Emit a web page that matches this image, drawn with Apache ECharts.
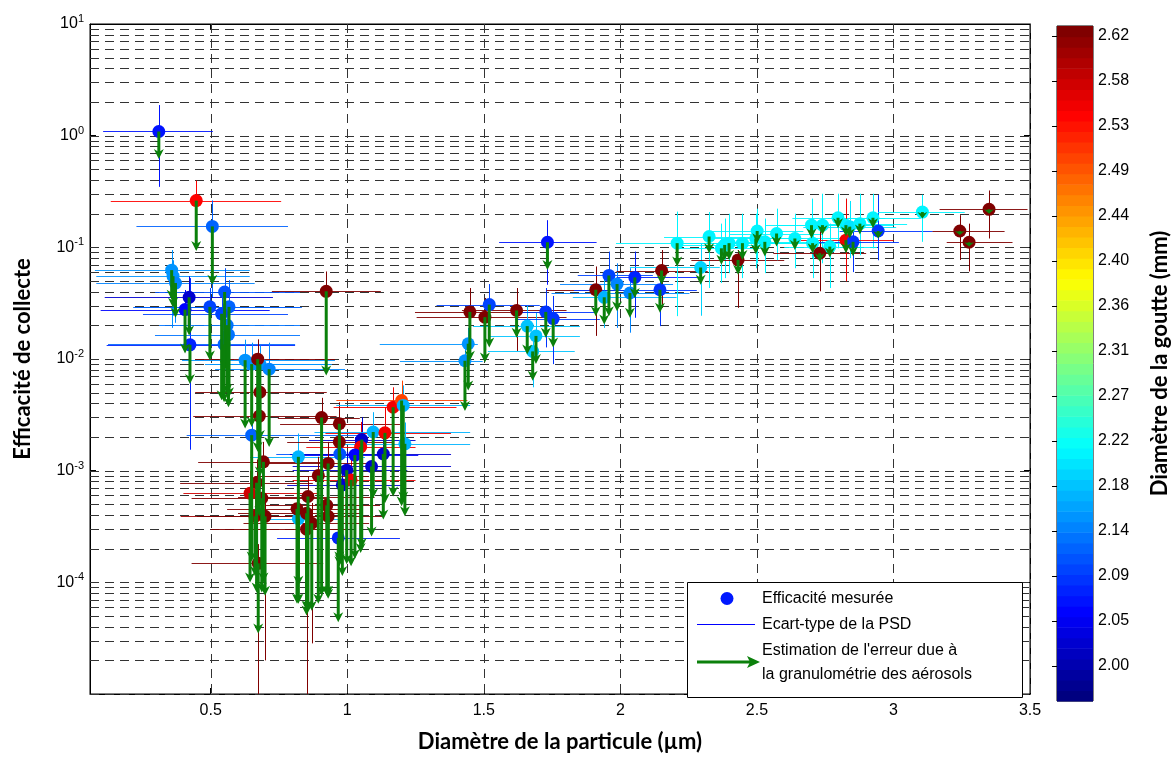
<!DOCTYPE html>
<html>
<head>
<meta charset="utf-8">
<script src="https://cdn.jsdelivr.net/npm/echarts@6/dist/echarts.min.js"></script>
<style>
html, body { margin: 0; padding: 0; background: #fff; }
#main { width: 1172px; height: 758px; }
</style>
</head>
<body>
<div id="main"></div>
<script>
// diamètre des particules (µm)
var dp = [0.310, 0.447, 0.506, 0.357, 0.362, 0.371, 0.421, 0.406, 0.424, 0.497, 0.551, 0.567, 0.540, 0.560, 0.565, 0.549, 0.923,
    0.626, 0.650, 0.680, 0.714, 0.672, 0.680, 0.678, 0.650, 0.693, 0.668, 0.644, 0.687, 0.662, 0.699, 0.674,
    0.821, 0.821, 0.906, 0.971, 0.971, 0.973, 1.053, 1.049, 1.028, 1.132, 1.089, 0.998, 0.982, 1.014, 1.095, 1.138, 1.168, 1.199, 1.205, 1.211,
    0.930, 0.894, 0.856, 0.816, 0.925, 0.851, 0.870, 0.851, 0.930, 0.967,
    1.443, 1.431, 1.449, 1.520, 1.504, 1.620, 1.659, 1.691, 1.679, 1.727, 1.754, 1.733, 1.910, 1.941, 1.958, 1.988, 2.035, 2.053, 2.145, 2.151,
    2.208, 2.294, 2.325, 2.370, 2.382, 2.398, 2.431, 2.447, 2.501, 2.496, 2.529, 2.572, 2.639, 2.700, 2.740, 2.704, 2.767, 2.730,
    2.797, 2.826, 2.840, 2.877, 2.925, 2.826, 2.852, 2.944, 3.106, 3.243, 3.277, 3.350];
// efficacité mesurée
var eff = [1.09, 0.262, 0.154, 0.0625, 0.0552, 0.0479, 0.0357, 0.0277, 0.0134, 0.0293, 0.0398, 0.0293, 0.0254, 0.0201, 0.0165, 0.0135, 0.0404,
    0.00976, 0.0090, 0.0090, 0.00811, 0.00996, 0.00504, 0.00308, 0.00208, 0.0012, 0.00078, 0.000628, 0.000567, 0.00039, 0.00039, 0.000148,
    0.00133, 0.000371, 0.00299, 0.00263, 0.00181, 0.00141, 0.0019, 0.00163, 0.00138, 0.00141, 0.00109, 0.00101, 0.000746, 0.000826, 0.00222, 0.00218, 0.0037, 0.00425, 0.00384, 0.00174,
    0.00116, 0.000904, 0.000587, 0.000455, 0.000489, 0.000415, 0.000338, 0.000299, 0.00039, 0.00025,
    0.0137, 0.00964, 0.0264, 0.0307, 0.0237, 0.0272, 0.0197, 0.0161, 0.0117, 0.0264, 0.023, 0.111, 0.0417, 0.0357, 0.056, 0.0469, 0.039, 0.0538, 0.0417, 0.062,
    0.109, 0.066, 0.125, 0.098, 0.105, 0.109, 0.0771, 0.109, 0.14, 0.12, 0.112, 0.133, 0.12, 0.158, 0.158, 0.109, 0.1015, 0.0885,
    0.184, 0.158, 0.153, 0.163, 0.184, 0.116, 0.112, 0.14, 0.207, 0.14, 0.111, 0.219];
// diamètre de la goutte (mm)
var drop = [2.06, 2.545, 2.12, 2.15, 2.15, 2.14, 2.02, 2.05, 2.07, 2.10, 2.11, 2.12, 2.10, 2.13, 2.13, 2.12, 2.63,
    2.15, 2.15, 2.15, 2.14, 2.63, 2.63, 2.63, 2.12, 2.63, 2.63, 2.57, 2.63, 2.60, 2.63, 2.63,
    2.17, 2.17, 2.63, 2.63, 2.63, 2.11, 2.02, 2.55, 2.05, 2.02, 2.02, 2.02, 2.02, 2.55, 2.17, 2.55, 2.55, 2.50, 2.17, 2.17,
    2.63, 2.63, 2.63, 2.63, 2.63, 2.63, 2.63, 2.63, 2.63, 2.07,
    2.15, 2.15, 2.63, 2.10, 2.63, 2.63, 2.18, 2.18, 2.18, 2.09, 2.09, 2.06, 2.63, 2.17, 2.10, 2.14, 2.14, 2.07, 2.09, 2.63,
    2.21, 2.19, 2.21, 2.21, 2.21, 2.21, 2.63, 2.21, 2.21, 2.21, 2.21, 2.21, 2.21, 2.21, 2.21, 2.21, 2.21, 2.63,
    2.21, 2.21, 2.20, 2.21, 2.21, 2.55, 2.09, 2.09, 2.21, 2.63, 2.63, 2.63];
// écart-type de la PSD (bornes en µm)
var dpLo = [0.106, 0.134, 0.228, 0.076, 0.081, 0.081, 0.112, 0.097, 0.119, 0.222, 0.296, 0.216, 0.252, 0.311, 0.296, 0.124, 0.724,
    0.395, 0.479, 0.497, 0.516, 0.443, 0.443, 0.436, 0.412, 0.454, 0.388, 0.40, 0.43, 0.39, 0.45, 0.43,
    0.644, 0.644, 0.746, 0.754, 0.78, 0.74, 0.86, 0.85, 0.80, 0.79, 0.80, 0.80, 0.78, 0.80, 0.88, 0.92, 0.95, 0.96, 0.96, 0.98,
    0.70, 0.66, 0.60, 0.56, 0.70, 0.60, 0.62, 0.50, 0.72, 0.743,
    1.119, 1.193, 1.248, 1.327, 1.254, 1.42, 1.460, 1.522, 1.515, 1.596, 1.614, 1.556, 1.730, 1.826, 1.844, 1.779, 1.748, 1.986, 1.83, 1.986,
    1.984, 2.035, 2.16, 2.20, 2.21, 2.23, 2.26, 2.28, 2.33, 2.33, 2.36, 2.40, 2.47, 2.53, 2.57, 2.53, 2.60, 2.56,
    2.63, 2.66, 2.67, 2.71, 2.76, 2.66, 2.68, 2.803, 2.943, 3.143, 3.195, 3.169];
var dpHi = [0.508, 0.758, 0.783, 0.643, 0.643, 0.661, 0.728, 0.716, 0.809, 0.826, 0.827, 0.834, 0.783, 0.827, 0.827, 0.809, 1.123,
    0.955, 0.937, 0.944, 0.992, 0.955, 0.925, 0.961, 1.046, 0.925, 0.874, 0.89, 0.93, 0.92, 0.96, 0.912,
    1.065, 0.979, 1.046, 1.193, 1.17, 1.20, 1.25, 1.25, 1.26, 1.38, 1.38, 1.22, 1.20, 1.25, 1.45, 1.38, 1.40, 1.44, 1.45, 1.45,
    1.10, 1.08, 1.10, 1.05, 1.12, 1.05, 1.08, 1.00, 1.13, 1.193,
    1.478, 1.496, 1.803, 1.705, 1.803, 1.803, 1.852, 1.852, 1.833, 1.913, 1.925, 1.913, 2.046, 2.206, 2.119, 2.193, 2.253, 2.291, 2.28, 2.32,
    2.498, 2.364, 2.50, 2.54, 2.55, 2.57, 2.60, 2.62, 2.67, 2.67, 2.70, 2.74, 2.81, 2.87, 2.91, 2.87, 2.94, 2.90,
    2.97, 3.00, 3.01, 3.05, 3.10, 3.00, 3.02, 3.144, 3.261, 3.407, 3.436, 3.491];
// barres verticales (bornes de l'efficacité)
var effLo = [0.348, 0.148, 0.0352, 0.019, 0.0244, 0.0211, 0.0224, 0.0155, 0.00154, 0.0172, 0.0211, 0.014, 0.0155, 0.0121, 0.0099, 0.00686, 0.0234,
    0.00558, 0.00504, 0.00536, 0.00455, 0.00455, 0.00302, 0.00181, 0.00148, 0.000721, 0.000514, 0.000324, 0.000352, 0.000172, 0.00002, 0.000005,
    0.000798, 0.000211, 0.002, 0.0017, 0.0012, 0.000885, 0.00133, 0.00109, 0.000885, 0.00092, 0.000692, 0.00065, 0.000514, 0.00053, 0.00148, 0.00133, 0.00246, 0.00273, 0.0025, 0.0011,
    0.000721, 0.000587, 0.00039, 0.000287, 0.000324, 0.000257, 0.0000284, 0.000005, 0.000234, 0.000172,
    0.0093, 0.00686, 0.0155, 0.019, 0.014, 0.0118, 0.0127, 0.0099, 0.00558, 0.0127, 0.009, 0.0462, 0.0161, 0.019, 0.0352, 0.019, 0.0172, 0.0234, 0.0197, 0.0287,
    0.0242, 0.0244, 0.0432, 0.0479, 0.053, 0.0587, 0.0287, 0.053, 0.0719, 0.065, 0.0587, 0.0766, 0.065, 0.0798, 0.0719, 0.053, 0.0432, 0.0404,
    0.098, 0.085, 0.08, 0.085, 0.098, 0.0496, 0.06, 0.0766, 0.112, 0.0771, 0.0608, 0.12];
var effHi = [1.88, 0.396, 0.263, 0.0946, 0.0766, 0.0678, 0.055, 0.0415, 0.053, 0.0432, 0.065, 0.0509, 0.0382, 0.0299, 0.0244, 0.0211, 0.0608,
    0.0149, 0.014, 0.0132, 0.014, 0.015, 0.00759, 0.00455, 0.00302, 0.00181, 0.00125, 0.001, 0.000885, 0.00065, 0.000587, 0.00022,
    0.00215, 0.000567, 0.00449, 0.0041, 0.00273, 0.00209, 0.00302, 0.00273, 0.002, 0.002, 0.00163, 0.00148, 0.00109, 0.00128, 0.00334, 0.0037, 0.00558, 0.0064, 0.0058, 0.0027,
    0.00181, 0.00133, 0.000885, 0.00065, 0.000721, 0.000587, 0.000514, 0.000432, 0.000587, 0.00039,
    0.019, 0.0132, 0.0432, 0.0469, 0.0352, 0.0432, 0.0299, 0.0259, 0.0172, 0.0432, 0.0367, 0.175, 0.0674, 0.053, 0.0916, 0.0719, 0.065, 0.0916, 0.0678, 0.0946,
    0.209, 0.109, 0.207, 0.163, 0.181, 0.20, 0.0946, 0.20, 0.222, 0.20, 0.181, 0.222, 0.20, 0.273, 0.302, 0.181, 0.163, 0.148,
    0.302, 0.273, 0.26, 0.302, 0.302, 0.273, 0.163, 0.296, 0.296, 0.194, 0.163, 0.323];
// estimation de l'erreur due à la granulométrie (pointe de la flèche)
var effEst = [0.618, 0.0927, 0.0462, 0.034, 0.0287, 0.0234, 0.0162, 0.0112, 0.00597, 0.0097, 0.0079, 0.00455, 0.00428, 0.00486, 0.0037, 0.0041, 0.00713,
    0.00238, 0.00246, 0.00188, 0.00163, 0.00148, 0.000885, 0.00039, 0.000154, 0.0000995, 0.0000811, 0.0000995, 0.0000811, 0.000114, 0.0000759, 0.0000348,
    0.0000931, 0.0000644, 0.0000759, 0.000154, 0.000139, 0.000145, 0.000203, 0.000183, 0.000162, 0.000365, 0.000257, 0.000145, 0.000114, 0.000139, 0.000567, 0.000512, 0.000587, 0.000479, 0.00053, 0.00039,
    0.0000759, 0.0000644, 0.0000558, 0.0000644, 0.0000759, 0.0000558, 0.0000558, 0.0000504, 0.0000713, 0.000044,
    0.00521, 0.00343, 0.00964, 0.0127, 0.0093, 0.0155, 0.011, 0.009, 0.0064, 0.0155, 0.0127, 0.0628, 0.0242, 0.0204, 0.0242, 0.0268, 0.0234, 0.0352, 0.0259, 0.0462,
    0.0674, 0.0462, 0.0885, 0.0697, 0.0766, 0.0771, 0.0567, 0.0771, 0.109, 0.0867, 0.0826, 0.1015, 0.0946, 0.12, 0.129, 0.0885, 0.081, 0.0746,
    0.148, 0.125, 0.12, 0.13, 0.148, 0.0885, 0.0833, 0.12, 0.181, 0.129, 0.1015, 0.2];

var xTicks = [0.5, 1, 1.5, 2, 2.5, 3, 3.5];
var xTickLabels = ['0.5', '1', '1.5', '2', '2.5', '3', '3.5'];
var cbTicks = [2.000, 2.0443, 2.0886, 2.1329, 2.1771, 2.2214, 2.2657, 2.3100, 2.3543, 2.3986, 2.4429, 2.4871, 2.5314, 2.5757, 2.6200];
var cbTickLabels = ['2.00', '2.05', '2.09', '2.14', '2.18', '2.22', '2.27', '2.31', '2.36', '2.40', '2.44', '2.49', '2.53', '2.58', '2.62'];
var cbMin = 1.9656, cbMax = 2.6298;

var xMin = 0.058, xMax = 3.5, yMin = 1e-5, yMax = 10;
var green = '#0b800b';
var tickFont = 'Liberation Sans, Arial, sans-serif';
var titleFont = 'Lato, sans-serif';

function clamp(v) { return Math.max(0, Math.min(1, v)); }
function jetIndex(i) {
    var t = i / 63;
    var r = clamp(1.5 - Math.abs(4 * t - 3));
    var g = clamp(1.5 - Math.abs(4 * t - 2));
    var b = clamp(1.5 - Math.abs(4 * t - 1));
    return 'rgb(' + Math.round(r * 255) + ',' + Math.round(g * 255) + ',' + Math.round(b * 255) + ')';
}
function jet(c) {
    var i = Math.floor((c - cbMin) / (cbMax - cbMin) * 64);
    return jetIndex(Math.max(0, Math.min(63, i)));
}

// lignes de grille (pointillés façon MATLAB)
var yGrid = [];
for (var k = -5; k <= 0; k++) {
    for (var m = 1; m <= 9; m++) yGrid.push(m * Math.pow(10, k));
}
var points = dp.map(function (x, i) { return [x, eff[i]]; });
var bands = [];
for (var b = 0; b < 64; b++) bands.push([0.5, cbMin + (b + 0.5) * (cbMax - cbMin) / 64]);

var myChart = echarts.init(document.getElementById('main'), null, {renderer: 'canvas'});

var dash = [9, 6];
var legendFont = '16px ' + tickFont;
var option = {
    animation: false,
    backgroundColor: '#fff',
    grid: [
        {left: 90, top: 24, width: 940, height: 675, show: true, borderColor: '#000', borderWidth: 1},
        {left: 1057, top: 26, width: 40, height: 675, show: true, borderColor: '#000', borderWidth: 1}
    ],
    xAxis: [{
        type: 'value', gridIndex: 0, min: xMin, max: xMax,
        name: 'Diamètre de la particule (µm)', nameLocation: 'middle', nameGap: 37,
        nameTextStyle: {fontFamily: titleFont, fontWeight: 'bold', fontSize: 22, color: '#000'},
        axisLine: {lineStyle: {color: '#000'}},
        axisTick: {inside: true, length: 6, customValues: xTicks, lineStyle: {color: '#000'}},
        axisLabel: {customValues: xTicks, margin: 9, fontSize: 16, fontFamily: tickFont, color: '#000',
            formatter: function (v) { return xTickLabels[xTicks.indexOf(v)]; }},
        splitLine: {show: false}
    }, {
        type: 'value', gridIndex: 0, position: 'top', min: xMin, max: xMax,
        axisLine: {lineStyle: {color: '#000'}},
        axisTick: {inside: true, length: 6, customValues: xTicks, lineStyle: {color: '#000'}},
        axisLabel: {show: false}, splitLine: {show: false}
    }, {
        type: 'value', gridIndex: 1, min: 0, max: 1, show: false
    }],
    yAxis: [{
        type: 'log', logBase: 10, gridIndex: 0, min: yMin, max: yMax,
        name: 'Efficacité de collecte', nameLocation: 'middle', nameGap: 56,
        nameTextStyle: {fontFamily: titleFont, fontWeight: 'bold', fontSize: 22, color: '#000'},
        axisLine: {lineStyle: {color: '#000'}},
        axisTick: {inside: true, length: 6, lineStyle: {color: '#000'}},
        axisLabel: {
            showMinLabel: false, margin: 6,
            formatter: function (v) { return '{b|10}{s|' + Math.round(Math.log10(v)) + '}'; },
            rich: {
                b: {fontSize: 16, fontFamily: tickFont, color: '#000'},
                s: {fontSize: 11, fontFamily: tickFont, color: '#000', padding: [0, 0, 10, 0]}
            }
        },
        splitLine: {show: false}
    }, {
        type: 'log', logBase: 10, gridIndex: 0, position: 'right', min: yMin, max: yMax,
        axisLine: {lineStyle: {color: '#000'}},
        axisTick: {inside: true, length: 6, lineStyle: {color: '#000'}},
        axisLabel: {show: false}, splitLine: {show: false}
    }, {
        type: 'value', gridIndex: 1, position: 'right', min: cbMin, max: cbMax,
        name: 'Diamètre de la goutte (mm)', nameLocation: 'middle', nameGap: 56, nameRotate: 90,
        nameTextStyle: {fontFamily: titleFont, fontWeight: 'bold', fontSize: 22, color: '#000'},
        axisLine: {show: false},
        axisTick: {inside: true, length: 5, customValues: cbTicks, lineStyle: {color: '#000'}},
        axisLabel: {customValues: cbTicks, margin: 5, fontSize: 16, fontFamily: tickFont, color: '#000',
            formatter: function (v) { return cbTickLabels[cbTicks.indexOf(v)]; }},
        splitLine: {show: false}
    }, {
        type: 'value', gridIndex: 1, position: 'left', min: cbMin, max: cbMax,
        axisLine: {show: false},
        axisTick: {inside: true, length: 5, customValues: cbTicks, lineStyle: {color: '#000'}},
        axisLabel: {show: false}, splitLine: {show: false}
    }],
    series: [{
        // grille horizontale
        type: 'custom', xAxisIndex: 0, yAxisIndex: 0, silent: true, z: 1,
        data: yGrid.map(function (v) { return [xMin, v]; }),
        renderItem: function (params, api) {
            var p0 = api.coord([xMin, api.value(1)]);
            var p1 = api.coord([xMax, api.value(1)]);
            var y = Math.round(p0[1]) + 0.5;
            return {type: 'line', shape: {x1: p0[0], y1: y, x2: p1[0], y2: y},
                style: {stroke: '#333', lineWidth: 1, lineDash: dash}};
        }
    }, {
        // grille verticale
        type: 'custom', xAxisIndex: 0, yAxisIndex: 0, silent: true, z: 1,
        data: xTicks.map(function (v) { return [v, yMax]; }),
        renderItem: function (params, api) {
            var p0 = api.coord([api.value(0), yMax]);
            var p1 = api.coord([api.value(0), yMin]);
            var x = Math.round(p0[0]) + 0.5;
            return {type: 'line', shape: {x1: x, y1: p0[1], x2: x, y2: p1[1]},
                style: {stroke: '#333', lineWidth: 1, lineDash: dash}};
        }
    }, {
        // écart-type de la PSD + barres verticales
        type: 'custom', xAxisIndex: 0, yAxisIndex: 0, silent: true, clip: true, z: 2,
        data: points,
        renderItem: function (params, api) {
            var i = params.dataIndex;
            var col = jet(drop[i]);
            var pl = api.coord([dpLo[i], eff[i]]);
            var pr = api.coord([dpHi[i], eff[i]]);
            var pt = api.coord([dp[i], effHi[i]]);
            var pb = api.coord([dp[i], effLo[i]]);
            var yh = Math.round(pl[1]) + 0.5, xv = Math.round(pt[0]) + 0.5;
            return {type: 'group', children: [
                {type: 'line', shape: {x1: pl[0], y1: yh, x2: pr[0], y2: yh}, style: {stroke: col, lineWidth: 1, opacity: 0.9}},
                {type: 'line', shape: {x1: xv, y1: pt[1], x2: xv, y2: pb[1]}, style: {stroke: col, lineWidth: 1}}
            ]};
        }
    }, {
        name: 'Efficacité mesurée',
        type: 'scatter', xAxisIndex: 0, yAxisIndex: 0, z: 3,
        symbolSize: 13,
        data: points,
        itemStyle: {opacity: 1, color: function (p) { return jet(drop[p.dataIndex]); }}
    }, {
        // flèches : erreur due à la granulométrie
        type: 'custom', xAxisIndex: 0, yAxisIndex: 0, silent: true, clip: true, z: 4,
        data: points,
        renderItem: function (params, api) {
            var i = params.dataIndex;
            var p0 = api.coord([dp[i], eff[i]]);
            var p1 = api.coord([dp[i], effEst[i]]);
            var x = p0[0], tip = p1[1];
            var len = tip - p0[1];
            var hl = Math.min(10, len), hw = 5;
            return {type: 'group', children: [
                {type: 'line', shape: {x1: x, y1: p0[1], x2: x, y2: tip - hl * 0.6},
                    style: {stroke: green, lineWidth: 3}},
                {type: 'polygon', shape: {points: [[x - hw, tip - hl], [x, tip - hl * 0.7], [x + hw, tip - hl], [x, tip]]},
                    style: {fill: green}}
            ]};
        }
    }, {
        // barre de couleur (jet 64)
        type: 'custom', xAxisIndex: 2, yAxisIndex: 2, silent: true, z: 1,
        data: bands,
        renderItem: function (params, api) {
            var i = params.dataIndex;
            var h = (cbMax - cbMin) / 64;
            var lo = cbMin + i * h;
            var p0 = api.coord([0, lo]);
            var p1 = api.coord([1, lo + h]);
            return {type: 'rect', shape: {x: p0[0], y: p1[1], width: p1[0] - p0[0], height: p0[1] - p1[1] + 0.6},
                style: {fill: jetIndex(i)}};
        }
    }],
    graphic: [{
        type: 'group', left: 687, top: 582, zlevel: 1, z: 100,
        children: [
            {type: 'rect', z: 100, zlevel: 1, shape: {x: 0.5, y: 0.5, width: 335, height: 115}, style: {fill: '#fff', stroke: '#000', lineWidth: 1}},
            {type: 'circle', z: 101, zlevel: 1, shape: {cx: 40, cy: 16.5, r: 6.5}, style: {fill: '#0018ff'}},
            {type: 'text', z: 101, zlevel: 1, x: 75, y: 16.5, style: {text: 'Efficacité mesurée', font: legendFont, fill: '#000', verticalAlign: 'middle'}},
            {type: 'line', z: 101, zlevel: 1, shape: {x1: 10, y1: 42.5, x2: 68, y2: 42.5}, style: {stroke: '#0000ff', lineWidth: 1}},
            {type: 'text', z: 101, zlevel: 1, x: 75, y: 42.5, style: {text: 'Ecart-type de la PSD', font: legendFont, fill: '#000', verticalAlign: 'middle'}},
            {type: 'line', z: 101, zlevel: 1, shape: {x1: 10, y1: 80, x2: 66, y2: 80}, style: {stroke: green, lineWidth: 3}},
            {type: 'polygon', z: 101, zlevel: 1, shape: {points: [[60, 74], [63, 80], [60, 86], [73, 80]]}, style: {fill: green}},
            {type: 'text', z: 101, zlevel: 1, x: 75, y: 69, style: {text: "Estimation de l'erreur due à", font: legendFont, fill: '#000', verticalAlign: 'middle'}},
            {type: 'text', z: 101, zlevel: 1, x: 75, y: 93, style: {text: 'la granulométrie des aérosols', font: legendFont, fill: '#000', verticalAlign: 'middle'}}
        ]
    }]
};
myChart.setOption(option);
</script>
</body>
</html>
